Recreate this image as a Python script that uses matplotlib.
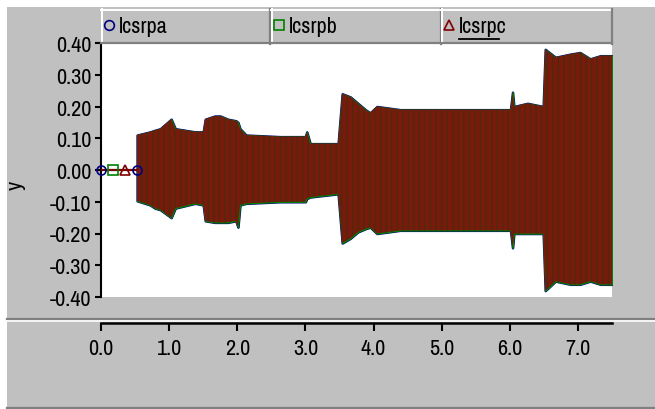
import matplotlib
matplotlib.use('Agg')
import matplotlib.pyplot as plt
from matplotlib.patches import Rectangle
from matplotlib.lines import Line2D

# envelope of the three currents (t in s)
t_env = [0.53, 0.72, 0.79, 0.87, 1.03, 1.09, 1.38, 1.50, 1.53, 1.67,
         1.75, 1.86, 1.98, 2.01, 2.04, 2.13, 2.63, 3.00, 3.02, 3.07,
         3.48, 3.54, 3.66, 3.77, 3.88, 3.95, 4.05, 4.39, 6.01, 6.04,
         6.06, 6.26, 6.49, 6.52, 6.67, 6.89, 7.03, 7.18, 7.33, 7.50]
upper = [0.11, 0.12, 0.125, 0.13, 0.16, 0.13, 0.12, 0.12, 0.16, 0.17,
         0.17, 0.16, 0.155, 0.15, 0.13, 0.11, 0.105, 0.105, 0.12, 0.083,
         0.083, 0.24, 0.23, 0.21, 0.19, 0.18, 0.20, 0.19, 0.19, 0.245,
         0.20, 0.21, 0.20, 0.38, 0.355, 0.365, 0.37, 0.35, 0.36, 0.36]
lower = [-0.097, -0.11, -0.12, -0.125, -0.15, -0.12, -0.105, -0.11, -0.16, -0.165,
         -0.165, -0.165, -0.16, -0.18, -0.11, -0.105, -0.10, -0.10, -0.09, -0.085,
         -0.075, -0.23, -0.215, -0.195, -0.185, -0.18, -0.20, -0.19, -0.19, -0.245,
         -0.20, -0.20, -0.20, -0.38, -0.35, -0.36, -0.36, -0.35, -0.36, -0.36]

# quiet part before the switch-on
t_pre = [0.0, 0.53]
y_pre = [0.0, 0.0]

names = ['lcsrpa', 'lcsrpb', 'lcsrpc']
colors = ['#000080', '#008000', '#800000']
markers = ['o', 's', '^']
mark_t = [[0.0, 0.53], [0.17], [0.35]]

yticks = [0.40, 0.30, 0.20, 0.10, 0.00, -0.10, -0.20, -0.30, -0.40]
xticks = [0.0, 1.0, 2.0, 3.0, 4.0, 5.0, 6.0, 7.0]

W, H = 655, 410
FONT = ['Liberation Sans Narrow', 'Arial Narrow', 'Archivo Narrow', 'PT Sans Narrow',
        'Liberation Sans', 'DejaVu Sans']
GRAY = '#c0c0c0'
DARK = '#808080'


def fx(x):
    return x / W


def fy(y):
    return 1 - y / H


def main():
    plt.rcParams['font.family'] = FONT
    plt.rcParams['hatch.linewidth'] = 1.0
    fig = plt.figure(figsize=(W / 100, H / 100), dpi=100, facecolor='white')

    # grey panel + separators
    fig.add_artist(Rectangle((fx(7), fy(408)), fx(648), 400 / H, transform=fig.transFigure,
                             facecolor=GRAY, edgecolor='none', zorder=0))
    fig.add_artist(Line2D([fx(7), 1], [fy(320), fy(320)], transform=fig.transFigure,
                          color=DARK, lw=1.6))
    fig.add_artist(Line2D([fx(7), 1], [fy(321.8), fy(321.8)], transform=fig.transFigure,
                          color='white', lw=1.2))
    fig.add_artist(Line2D([fx(7), 1], [fy(408.5), fy(408.5)], transform=fig.transFigure,
                          color=DARK, lw=1.6))

    # legend boxes
    boxes = [(101, 270), (271, 441), (441, 612)]
    for (x0, x1), name, c, m in zip(boxes, names, colors, markers):
        fig.add_artist(Line2D([fx(x0), fx(x1)], [fy(10.5), fy(10.5)], transform=fig.transFigure,
                              color='white', lw=1.4))
        fig.add_artist(Line2D([fx(x0 + 0.5), fx(x0 + 0.5)], [fy(10), fy(44)], transform=fig.transFigure,
                              color='white', lw=1.4))
        fig.add_artist(Line2D([fx(x0), fx(x1)], [fy(44), fy(44)], transform=fig.transFigure,
                              color=DARK, lw=1.6))
        fig.add_artist(Line2D([fx(x1 - 0.5), fx(x1 - 0.5)], [fy(10), fy(44.5)], transform=fig.transFigure,
                              color=DARK, lw=1.6))
        fig.add_artist(Line2D([fx(x0 + 8)], [fy(26)], transform=fig.transFigure, marker=m,
                              markersize=7, markerfacecolor='none', markeredgecolor=c,
                              markeredgewidth=1.2, linestyle='none'))
        fig.text(fx(x0 + 18), fy(27), name, fontsize=16, ha='left', va='center', color='black')
    # focus underline on the last entry
    fig.add_artist(Line2D([fx(459), fx(499)], [fy(39.5), fy(39.5)], transform=fig.transFigure,
                          color='black', lw=1.3))

    # main plot
    ax = fig.add_axes([fx(101), fy(298), (612 - 101) / W, (298 - 44) / H])
    ax.set_facecolor('white')
    ax.fill_between(t_env, lower, upper, color=colors[0], lw=1.8, zorder=2)
    ax.fill_between(t_env, lower, upper, color=colors[1], lw=1.0, zorder=3)
    ax.fill_between(t_env, lower, upper, facecolor='#781a0c', edgecolor='#4e2a0c',
                    hatch='|||', lw=0, zorder=4)
    for c, m, mt in zip(colors, markers, mark_t):
        ax.plot(t_pre, y_pre, color=c, lw=1.5, zorder=5)
        ax.plot(mt, [0.0] * len(mt), linestyle='none', marker=m, markersize=6.5,
                markerfacecolor='none', markeredgecolor=c, markeredgewidth=1.2,
                zorder=6, clip_on=False)
    ax.set_xlim(0, 7.5)
    ax.set_ylim(-0.40, 0.40)
    for s in ['top', 'right', 'bottom']:
        ax.spines[s].set_visible(False)
    ax.spines['left'].set_linewidth(1.5)
    ax.set_xticks([])
    ax.set_yticks(yticks)
    ax.set_yticklabels(['%.2f' % v for v in yticks])
    ax.tick_params(axis='y', length=4, width=1.5, pad=3, labelsize=16)
    fig.text(fx(16), fy(185), 'y', fontsize=16, rotation=90, ha='center', va='center')

    # x axis drawn below the separator
    axx = fig.add_axes([fx(101), fy(324), (612 - 101) / W, 0.0001])
    axx.patch.set_visible(False)
    for s in ['top', 'right', 'left']:
        axx.spines[s].set_visible(False)
    axx.spines['bottom'].set_linewidth(1.8)
    axx.set_xlim(0, 7.5)
    axx.set_yticks([])
    axx.set_xticks(xticks)
    axx.set_xticklabels(['%.1f' % v for v in xticks])
    axx.tick_params(axis='x', length=6, width=1.5, pad=5, labelsize=16)

    fig.savefig('out.png', dpi=100, facecolor='white')


if __name__ == '__main__':
    main()
